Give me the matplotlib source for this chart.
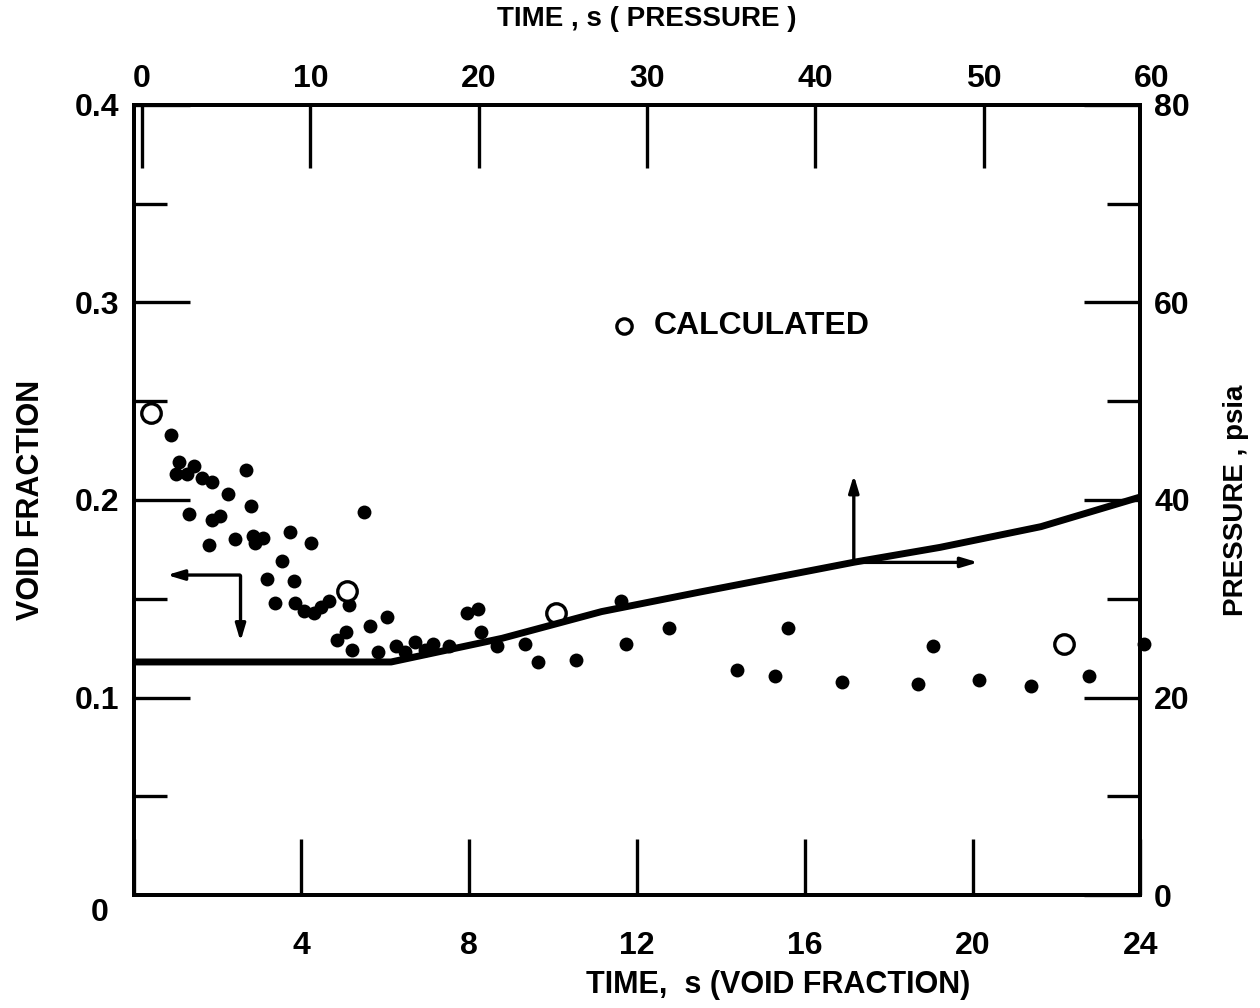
import numpy as np
import matplotlib
matplotlib.use("Agg")
import matplotlib.pyplot as plt

plt.rcParams['font.family'] = ['Liberation Sans Narrow', 'Liberation Sans', 'DejaVu Sans']
plt.rcParams['font.weight'] = 'bold'
plt.rcParams['axes.labelweight'] = 'bold'

# ── Data ─────────────────────────────────────────────────────────────────────
# measured void fraction (solid dots), time axis = bottom (s)
meas_t = [0.89, 1.09, 1.01, 1.28, 1.44, 1.64, 1.86, 2.26, 2.67, 2.81,
          1.32, 1.88, 2.06, 2.43, 1.81, 2.85, 2.89, 3.09, 3.73, 4.23,
          5.50, 3.53, 3.19, 3.82, 3.38, 3.85, 4.06, 4.30, 4.46, 4.66,
          5.13, 6.04, 5.64, 5.07, 4.84, 5.21, 5.82, 6.26, 6.46, 6.72,
          6.94, 7.15, 7.53, 7.96, 8.22, 8.28, 8.66, 9.33, 9.63, 10.54,
          11.63, 11.73, 12.77, 14.39, 15.28, 15.60, 16.88, 18.71, 19.06, 20.15,
          21.40, 22.78, 24.10]
meas_void = [0.233, 0.219, 0.213, 0.213, 0.217, 0.211, 0.209, 0.203, 0.215, 0.197,
             0.193, 0.190, 0.192, 0.180, 0.177, 0.182, 0.178, 0.181, 0.184, 0.178,
             0.194, 0.169, 0.160, 0.159, 0.148, 0.148, 0.144, 0.143, 0.146, 0.149,
             0.147, 0.141, 0.136, 0.133, 0.129, 0.124, 0.123, 0.126, 0.123, 0.128,
             0.124, 0.127, 0.126, 0.143, 0.145, 0.133, 0.126, 0.127, 0.118, 0.119,
             0.149, 0.127, 0.135, 0.114, 0.111, 0.135, 0.108, 0.107, 0.126, 0.109,
             0.106, 0.111, 0.127]

# calculated void fraction (open circles)
calc_t = [0.41, 5.10, 10.07, 22.18]
calc_void = [0.244, 0.154, 0.143, 0.127]

# pressure trace, time axis = top (s), pressure = right axis (psia)
pres_t = [-0.5, 14.8, 21.4, 27.3, 33.2, 42.3, 47.4, 53.4, 59.3]
pres_psia = [23.6, 23.6, 26.0, 28.7, 30.7, 33.7, 35.2, 37.3, 40.3]

top_ticks = [0, 10, 20, 30, 40, 50, 60]

# ── Figure ───────────────────────────────────────────────────────────────────
fig = plt.figure(figsize=(12.6, 10.08), dpi=100)
ax = fig.add_axes([0.106, 0.112, 0.799, 0.784])
ax_r = ax.twinx()
ax_t = ax_r.twiny()

LW = 2.8
TICKW = 2.4
tick_fs = 23

# left axis: void fraction
ax.set_xticks(np.arange(0, 25, 4))
ax.set_xticklabels(["", "4", "8", "12", "16", "20", "24"])
ax.set_yticks([0.1, 0.2, 0.3, 0.4])
ax.set_yticklabels(["0.1", "0.2", "0.3", "0.4"])
ax.set_yticks([0.05, 0.15, 0.25, 0.35], minor=True)
ax.set_xlim(0, 24)
ax.set_ylim(0, 0.4)
ax.tick_params(axis="x", direction="in", length=40, width=TICKW,
               labelsize=tick_fs, pad=26)
ax.tick_params(axis="y", which="major", direction="in", length=40, width=TICKW,
               labelsize=tick_fs, pad=10)
ax.tick_params(axis="y", which="minor", direction="in", length=24, width=TICKW)
for sp in ax.spines.values():
    sp.set_linewidth(LW)

# right axis: pressure
ax_r.set_yticks([0, 20, 40, 60, 80])
ax_r.set_yticks([10, 30, 50, 70], minor=True)
ax_r.set_ylim(0, 80)
ax_r.tick_params(axis="y", which="major", direction="in", length=40, width=TICKW,
                 labelsize=tick_fs, pad=10)
ax_r.tick_params(axis="y", which="minor", direction="in", length=24, width=TICKW)

# top axis: pressure time
ax_t.set_xticks(top_ticks)
ax_t.set_xlim(-0.5, 59.3)
ax_t.tick_params(axis="x", direction="in", length=45, width=TICKW,
                 labelsize=tick_fs, pad=8)
ax_t.tick_params(axis="y", which="both", length=0)
for a in (ax_r, ax_t):
    for sp in a.spines.values():
        sp.set_linewidth(LW)
# the last top label falls just past the frame edge
ax_t.annotate("%d" % top_ticks[-1], xy=(top_ticks[-1], 1.0),
              xycoords=ax_t.get_xaxis_transform(), xytext=(0, 8),
              textcoords="offset points", fontsize=tick_fs,
              ha="center", va="bottom", annotation_clip=False)

# ── Marks ────────────────────────────────────────────────────────────────────
ax.plot(meas_t, meas_void, "o", color="black", markersize=10,
        markeredgewidth=0, clip_on=False)
ax.plot(calc_t, calc_void, "o", markerfacecolor="white", markeredgecolor="black",
        markersize=14, markeredgewidth=2.4, clip_on=False, zorder=5)
ax_t.plot(pres_t, pres_psia, "-", color="black", linewidth=5,
          solid_capstyle="butt", clip_on=False)

# axis-reading arrows
arrow_kw = dict(arrowstyle="-|>,head_length=1.0,head_width=0.3",
                color="black", lw=2.4)
ax.annotate("", xy=(0.73, 0.162), xytext=(2.60, 0.162), arrowprops=arrow_kw)
ax.annotate("", xy=(2.55, 0.127), xytext=(2.55, 0.163), arrowprops=arrow_kw)
ax.annotate("", xy=(17.17, 0.214), xytext=(17.17, 0.168), arrowprops=arrow_kw)
ax.annotate("", xy=(20.2, 0.1684), xytext=(17.1, 0.1684), arrowprops=arrow_kw)

# legend entry
ax.plot([11.7], [0.288], "o", markerfacecolor="white", markeredgecolor="black",
        markersize=11, markeredgewidth=2.4)
ax.text(12.4, 0.288, "CALCULATED", fontsize=23, va="center", ha="left")

# labels
ax.set_ylabel("VOID FRACTION", fontsize=22)
ax.yaxis.set_label_coords(-0.087, 0.5)
ax_r.set_ylabel("PRESSURE , psia", fontsize=20)
ax_r.yaxis.set_label_coords(1.082, 0.5)
ax.set_xlabel("TIME,  s (VOID FRACTION)", fontsize=22)
ax.xaxis.set_label_coords(0.64, -0.095)
ax_t.set_xlabel("TIME , s ( PRESSURE )", fontsize=20)
ax_t.xaxis.set_label_coords(0.51, 1.10)
fig.text(100 / 1260, 1 - 913 / 1008, "0", fontsize=tick_fs, ha="center", va="center")

fig.savefig("out.png", dpi=100, facecolor="white")
